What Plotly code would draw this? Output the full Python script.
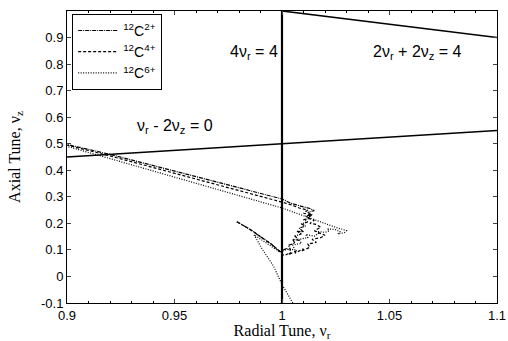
import plotly.graph_objects as go

# Resonance lines
res_vert_x = [1.0, 1.0]
res_vert_y = [-0.1, 1.0]
res_sum_x = [1.0, 1.1]
res_sum_y = [1.0, 0.9]
res_diff_x = [0.9, 1.1]
res_diff_y = [0.45, 0.55]

# Tune paths
c2_x = [0.979, 0.985, 0.990, 0.995, 0.999, 1.002, 1.004, 1.003, 1.006, 1.005, 1.008, 1.006, 1.009,
        1.007, 1.010, 1.008, 1.011, 1.009, 1.012, 1.010, 1.013, 1.011, 1.014, 1.012, 1.015, 1.013,
        1.010, 1.007, 1.004, 1.000, 0.980, 0.960, 0.940, 0.920, 0.900]
c2_y = [0.206, 0.178, 0.150, 0.122, 0.094, 0.105, 0.098, 0.118, 0.125, 0.140, 0.136, 0.152, 0.160,
        0.170, 0.168, 0.182, 0.190, 0.198, 0.205, 0.214, 0.218, 0.228, 0.232, 0.242, 0.248, 0.256,
        0.262, 0.270, 0.276, 0.292, 0.334, 0.377, 0.420, 0.460, 0.497]

c4_x = [0.979, 0.985, 0.990, 0.995, 0.999, 1.001, 1.004, 1.003, 1.007, 1.006, 1.010, 1.009, 1.013,
        1.012, 1.016, 1.014, 1.018, 1.020, 1.017, 1.015, 1.018, 1.016, 1.013, 1.015, 1.012, 1.014,
        1.010, 1.012, 1.008, 1.005, 1.000, 0.980, 0.960, 0.940, 0.920, 0.900]
c4_y = [0.206, 0.178, 0.150, 0.122, 0.094, 0.078, 0.090, 0.082, 0.098, 0.088, 0.104, 0.095, 0.110,
        0.122, 0.128, 0.140, 0.146, 0.155, 0.165, 0.172, 0.185, 0.196, 0.200, 0.212, 0.220, 0.232,
        0.238, 0.250, 0.258, 0.268, 0.280, 0.324, 0.368, 0.412, 0.454, 0.495]

c6_x = [1.005, 1.000, 0.996, 0.991, 0.987, 0.990, 0.993, 0.996, 0.999, 1.003, 1.006, 1.005, 1.009,
        1.008, 1.012, 1.011, 1.015, 1.017, 1.016, 1.020, 1.022, 1.021, 1.025, 1.027, 1.026, 1.029,
        1.030, 1.028, 1.026, 1.000, 0.980, 0.960, 0.940, 0.920, 0.900]
c6_y = [-0.100, -0.030, 0.040, 0.100, 0.157, 0.140, 0.125, 0.108, 0.092, 0.104, 0.100, 0.118, 0.125,
        0.140, 0.146, 0.158, 0.152, 0.162, 0.170, 0.166, 0.172, 0.180, 0.176, 0.168, 0.160, 0.165,
        0.172, 0.178, 0.182, 0.258, 0.305, 0.352, 0.398, 0.444, 0.490]

x_ticks = [0.9, 0.95, 1.0, 1.05, 1.1]
x_tick_labels = ["0.9", "0.95", "1", "1.05", "1.1"]
y_ticks = [-0.1, 0, 0.1, 0.2, 0.3, 0.4, 0.5, 0.6, 0.7, 0.8, 0.9]
y_tick_labels = ["-0.1", "0", "0.1", "0.2", "0.3", "0.4", "0.5", "0.6", "0.7", "0.8", "0.9"]

fig = go.Figure()
for xs, ys, w in [(res_vert_x, res_vert_y, 2.2), (res_sum_x, res_sum_y, 1.6), (res_diff_x, res_diff_y, 1.6)]:
    fig.add_trace(go.Scatter(x=xs, y=ys, mode="lines", line=dict(color="black", width=w),
                             showlegend=False, hoverinfo="skip"))

fig.add_trace(go.Scatter(x=c2_x, y=c2_y, mode="lines", name="<sup>12</sup>C<sup>2+</sup>",
                         line=dict(color="black", width=1.2, dash="4px,1px,1px,1px")))
fig.add_trace(go.Scatter(x=c4_x, y=c4_y, mode="lines", name="<sup>12</sup>C<sup>4+</sup>",
                         line=dict(color="black", width=1.2, dash="3px,2px")))
fig.add_trace(go.Scatter(x=c6_x, y=c6_y, mode="lines", name="<sup>12</sup>C<sup>6+</sup>",
                         line=dict(color="black", width=1.2, dash="1px,1.5px")))

ann_font = dict(family="Liberation Sans, Arial", size=16, color="black")
fig.add_annotation(x=0.999, y=0.845, text="4ν<sub>r</sub> = 4", showarrow=False, xanchor="right", font=ann_font)
fig.add_annotation(x=1.063, y=0.845, text="2ν<sub>r</sub> + 2ν<sub>z</sub> = 4", showarrow=False, font=ann_font)
fig.add_annotation(x=0.950, y=0.565, text="ν<sub>r</sub> - 2ν<sub>z</sub> = 0", showarrow=False, font=ann_font)

tick_font = dict(family="Liberation Sans, Arial", size=13, color="black")
title_font = dict(family="Liberation Serif, Times New Roman", size=16, color="black")

fig.update_layout(
    width=508, height=341,
    margin=dict(l=67, r=11, t=11, b=38),
    paper_bgcolor="white", plot_bgcolor="white",
    showlegend=True,
    legend=dict(x=0.012, y=0.99, xanchor="left", yanchor="top", bordercolor="black", borderwidth=1,
                bgcolor="white", font=dict(family="Liberation Sans, Arial", size=14, color="black"),
                tracegroupgap=0, itemwidth=40),
    xaxis=dict(range=[0.9, 1.1], tickvals=x_ticks, ticktext=x_tick_labels, ticks="inside", ticklen=4,
               showline=True, linecolor="black", linewidth=1, mirror="ticks", showgrid=False, zeroline=False,
               automargin=False,
               tickfont=tick_font, title=dict(text="Radial Tune, ν<sub>r</sub>", font=title_font, standoff=0),
               minor=dict(dtick=0.01, ticks="inside", ticklen=2, tickcolor="black")),
    yaxis=dict(range=[-0.1, 1.0], tickvals=y_ticks, ticktext=y_tick_labels, ticks="inside", ticklen=4,
               showline=True, linecolor="black", linewidth=1, mirror="ticks", showgrid=False, zeroline=False,
               automargin=False,
               tickfont=tick_font, title=dict(text="Axial Tune, ν<sub>z</sub>", font=title_font, standoff=16)),
)

fig.write_html("out.html")
